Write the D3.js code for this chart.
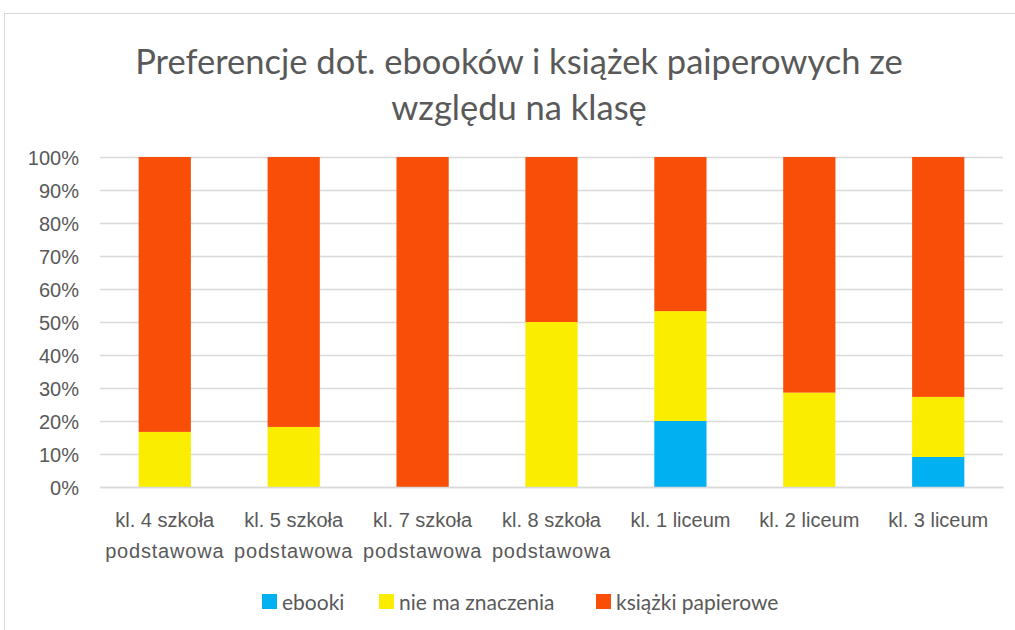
<!DOCTYPE html>
<html>
<head>
<meta charset="utf-8">
<script src="https://cdn.jsdelivr.net/npm/d3@7"></script>
<style>
  body { margin: 0; background: #fff; }
  svg { font-family: Lato, "Open Sans", sans-serif; }
  .tick text { fill: #595959; font-size: 20px; }
</style>
</head>
<body>
<svg id="chart" width="1015" height="630"></svg>
<script>
// data
const categories = [
  ["kl. 4 szkoła", "podstawowa"],
  ["kl. 5 szkoła", "podstawowa"],
  ["kl. 7 szkoła", "podstawowa"],
  ["kl. 8 szkoła", "podstawowa"],
  ["kl. 1 liceum"],
  ["kl. 2 liceum"],
  ["kl. 3 liceum"]
];
const seriesNames = ["ebooki", "nie ma znaczenia", "książki papierowe"];
const ebooki = [0, 0, 0, 0, 0.2, 0, 0.091];
const nieMaZnaczenia = [0.167, 0.182, 0, 0.5, 0.333, 0.286, 0.182];
const ksiazkiPapierowe = [0.833, 0.818, 1, 0.5, 0.467, 0.714, 0.727];
const yTicks = [0, 0.1, 0.2, 0.3, 0.4, 0.5, 0.6, 0.7, 0.8, 0.9, 1];
const colors = ["#00B0F0", "#FAED00", "#F84E08"];

const svg = d3.select("#chart");

// outer border
svg.append("rect")
  .attr("x", 4.5).attr("y", 13.5)
  .attr("width", 1030).attr("height", 640)
  .attr("fill", "none").attr("stroke", "#d9d9d9");

const plotLeft = 100, plotRight = 1003, plotTop = 157, plotBottom = 487;

const x = d3.scaleBand()
  .domain(d3.range(categories.length))
  .range([plotLeft, plotRight])
  .paddingInner(0.595).paddingOuter(0.3);

const y = d3.scaleLinear().domain([0, 1]).range([plotBottom, plotTop]);

// grid
svg.append("g")
  .attr("transform", `translate(${plotLeft},0)`)
  .call(d3.axisLeft(y).tickValues(yTicks).tickSize(-(plotRight - plotLeft)).tickFormat(d3.format(".0%")))
  .call(g => g.select(".domain").remove())
  .call(g => g.selectAll(".tick line").attr("stroke", "#d9d9d9").attr("stroke-width", 1.3))
  .call(g => g.selectAll(".tick text").attr("x", -21).attr("dy", "0.35em"));

// stacked bars
const rows = categories.map((c, i) => ({i, a: ebooki[i], b: nieMaZnaczenia[i], c: ksiazkiPapierowe[i]}));
const stack = d3.stack().keys(["a", "b", "c"])(rows);

svg.append("g").selectAll("g")
  .data(stack)
  .enter().append("g")
  .attr("fill", (d, k) => colors[k])
  .selectAll("rect")
  .data(d => d)
  .enter().append("rect")
  .attr("x", d => x(d.data.i))
  .attr("y", d => y(d[1]))
  .attr("height", d => y(d[0]) - y(d[1]))
  .attr("width", x.bandwidth());

// x labels
const xAxis = svg.append("g")
  .attr("transform", `translate(0,${plotBottom})`)
  .call(d3.axisBottom(x).tickSize(0).tickFormat(""));
xAxis.select(".domain").attr("stroke", "#d9d9d9").attr("stroke-width", 1.3);
xAxis.selectAll(".tick").each(function(i) {
  const t = d3.select(this).append("text")
    .attr("fill", "#595959").attr("font-size", 19.5).attr("text-anchor", "middle")
    .attr("y", 40);
  categories[i].forEach((line, j) => {
    t.append("tspan").attr("x", 0).attr("dy", j === 0 ? 0 : 31)
      .attr("letter-spacing", j === 0 ? 0 : 0.8).text(line);
  });
});

// title
const title = svg.append("text")
  .attr("x", 519).attr("y", 74)
  .attr("text-anchor", "middle")
  .attr("fill", "#595959")
  .attr("font-size", 34.5);
title.append("tspan").attr("x", 519).text("Preferencje dot. ebooków i książek paiperowych ze");
title.append("tspan").attr("x", 519).attr("dy", 46).text("względu na klasę");

// legend
const legendX = [262, 379, 596];
const legend = svg.append("g");
seriesNames.forEach((name, k) => {
  legend.append("rect")
    .attr("x", legendX[k]).attr("y", 594)
    .attr("width", 15).attr("height", 15)
    .attr("fill", colors[k]);
  legend.append("text")
    .attr("x", legendX[k] + 20).attr("y", 610)
    .attr("fill", "#595959").attr("font-size", 21)
    .text(name);
});
</script>
</body>
</html>
